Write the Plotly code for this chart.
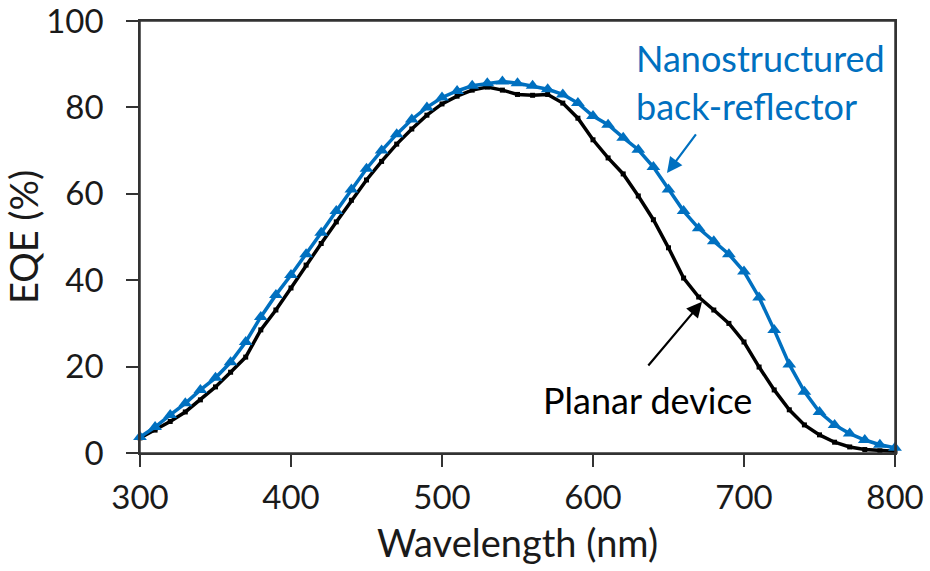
import plotly.graph_objects as go

wavelength = list(range(300, 801, 10))

eqe_nano = [3.7, 6.0, 8.8, 11.5, 14.6, 17.4, 21.0, 25.7, 31.5, 36.6,
            41.2, 46.0, 51.0, 56.0, 61.0, 65.8, 70.0, 73.8, 77.2, 80.0,
            82.3, 83.8, 85.0, 85.6, 86.0, 85.6, 85.0, 84.2, 83.0, 81.0,
            78.0, 76.0, 73.0, 70.2, 66.2, 61.0, 56.0, 52.0, 49.0, 46.0,
            42.0, 36.0, 28.5, 20.5, 14.2, 9.5, 6.5, 4.5, 3.0, 1.9, 1.2]

eqe_planar = [3.5, 5.3, 7.3, 9.5, 12.3, 15.3, 18.7, 22.2, 28.5, 33.1,
              38.2, 43.5, 48.5, 53.5, 58.5, 63.2, 67.5, 71.5, 75.0, 78.2,
              80.8, 82.6, 84.0, 84.7, 84.0, 83.0, 82.8, 83.0, 81.0, 77.5,
              72.5, 68.3, 64.6, 59.5, 54.0, 47.5, 40.5, 36.1, 33.1, 30.0,
              25.7, 19.9, 14.6, 10.0, 6.5, 4.2, 2.5, 1.4, 0.8, 0.5, 0.4]

x_ticks = [300, 400, 500, 600, 700, 800]
y_ticks = [0, 20, 40, 60, 80, 100]

BLUE = "#0070C0"
FONT = "Lato"

fig = go.Figure()
fig.add_trace(go.Scatter(
    x=wavelength, y=eqe_planar, mode="lines+markers",
    line=dict(color="black", width=3.5),
    marker=dict(symbol="square", size=5, color="black"),
    cliponaxis=False, showlegend=False))
fig.add_trace(go.Scatter(
    x=wavelength, y=eqe_nano, mode="lines+markers",
    line=dict(color=BLUE, width=3.5),
    marker=dict(symbol="triangle-up", size=12, color=BLUE),
    cliponaxis=False, showlegend=False))

fig.add_annotation(x=627, y=91.4, text="Nanostructured", showarrow=False,
                   xanchor="left", font=dict(family=FONT, size=36, color=BLUE))
fig.add_annotation(x=627, y=80.3, text="back-reflector", showarrow=False,
                   xanchor="left", font=dict(family=FONT, size=36, color=BLUE))
fig.add_annotation(x=649, y=64.8, ax=668.9, ay=74.1, axref="x", ayref="y",
                   text="", showarrow=True, arrowhead=2, arrowsize=1.4,
                   arrowwidth=2.2, arrowcolor=BLUE)

fig.add_annotation(x=636, y=12.3, text="Planar device", showarrow=False,
                   font=dict(family=FONT, size=36, color="black"))
fig.add_annotation(x=672.2, y=35, ax=635.8, ay=19.9, axref="x", ayref="y",
                   text="", showarrow=True, arrowhead=2, arrowsize=1.4,
                   arrowwidth=2.2, arrowcolor="black")

# plot frame
fig.add_shape(type="rect", xref="paper", yref="paper", x0=0, x1=1, y0=0, y1=1,
              line=dict(color="#333", width=1.5), layer="above")

fig.update_layout(
    width=930, height=571,
    margin=dict(l=140, r=35, t=21, b=118),
    paper_bgcolor="white", plot_bgcolor="white",
    font=dict(family=FONT, size=32, color="#1a1a1a"),
)
fig.update_xaxes(
    range=[300, 800], tickvals=x_ticks, ticks="outside", ticklen=12,
    tickwidth=1.5, tickcolor="#333", showline=True, linecolor="#333",
    linewidth=1.5, mirror=True, showgrid=False, zeroline=False,
    automargin=False, ticklabelstandoff=3, ticklabeloverflow="allow",
    title=dict(text="Wavelength (nm)", standoff=15),
    tickfont=dict(size=33))
fig.update_yaxes(
    range=[0, 100], tickvals=y_ticks, ticks="outside", ticklen=12,
    tickwidth=1.5, tickcolor="#333", showline=True, linecolor="#333",
    linewidth=1.5, mirror=True, showgrid=False, zeroline=False,
    automargin=False, ticklabelstandoff=16, ticklabeloverflow="allow",
    title=dict(text="EQE (%)", standoff=6),
    tickfont=dict(size=33))

fig.write_html("out.html")
